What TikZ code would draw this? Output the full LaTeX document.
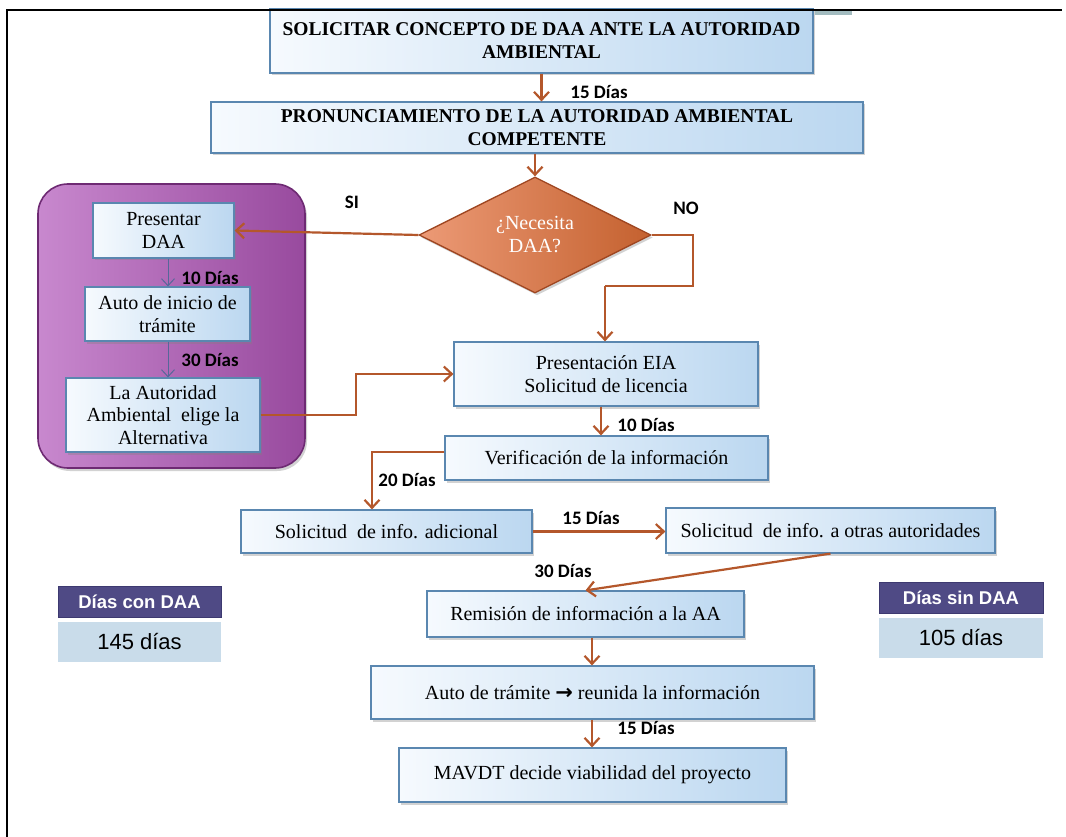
\documentclass[tikz,border=0pt]{standalone}
\usepackage{fontspec}
\setmainfont{Liberation Serif}
\newfontfamily\lblfont{Carlito}
\newfontfamily\sumfont{Liberation Sans}
\newfontfamily\symfont{DejaVu Sans}
\usetikzlibrary{arrows.meta,shapes.geometric,shadows}
\definecolor{boxL}{HTML}{F6FAFE}
\definecolor{boxR}{HTML}{BBD7F0}
\definecolor{boxB}{HTML}{5A87B0}
\definecolor{arrc}{HTML}{B4572B}
\definecolor{innarr}{HTML}{56679A}
\definecolor{purL}{HTML}{C888CE}
\definecolor{purR}{HTML}{984A9E}
\definecolor{purB}{HTML}{6E2A73}
\definecolor{diaL}{HTML}{EC9A76}
\definecolor{diaR}{HTML}{C4612F}
\definecolor{diaB}{HTML}{9E4520}
\definecolor{hdrc}{HTML}{4F4A85}
\definecolor{hdrb}{HTML}{3D3970}
\definecolor{valc}{HTML}{C9DCEA}
\definecolor{tealbar}{HTML}{A3BCC0}
\begin{document}
\begin{tikzpicture}[x=1pt,y=-1pt,
  procbox/.style={draw=boxB, line width=1.2pt, left color=boxL, right color=boxR,
    align=center, inner sep=2pt, font=\fontsize{20}{22.5}\selectfont, text=black,
    drop shadow={shadow xshift=2pt,shadow yshift=-2.5pt,opacity=.35}},
  titlebox/.style={procbox, font=\fontsize{19.5}{23}\selectfont\bfseries},
  arr/.style={draw=arrc, line width=2.2pt, -{Straight Barb[length=8pt,width=15pt]}},
  line/.style={draw=arrc, line width=2.2pt},
  inarr/.style={draw=innarr, line width=1pt, -{Straight Barb[length=7pt,width=13pt]}},
  daylbl/.style={font=\lblfont\bfseries\fontsize{19}{22}\selectfont, inner sep=0pt},
  hdrbox/.style={draw=hdrb, line width=0.6pt, fill=hdrc, text=white,
    font=\sumfont\bfseries\fontsize{18.5}{22}\selectfont, inner sep=0pt},
  valbox/.style={fill=valc, text=black,
    font=\sumfont\fontsize{22}{26}\selectfont, inner sep=0pt},
]
\useasboundingbox (0,0) rectangle (1066,837);
\fill[white] (0,0) rectangle (1066,837);

% small bar peeking at the top
\fill[tealbar] (815,11) rectangle (852,15);

% purple group
\node[draw=purB, line width=1.6pt, left color=purL, right color=purR, rounded corners=30pt,
  minimum width=267pt, minimum height=284pt, inner sep=0pt,
  drop shadow={shadow xshift=2pt,shadow yshift=-3pt,opacity=.35}] (grp) at (171.5,326) {};

% process boxes
\node[titlebox, minimum width=543pt, minimum height=64pt] (b1) at (541.5,41)
  {SOLICITAR CONCEPTO DE DAA ANTE LA AUTORIDAD\\AMBIENTAL};
\node[titlebox, minimum width=652pt, minimum height=51pt] (b2) at (537,127.5)
  {PRONUNCIAMIENTO DE LA AUTORIDAD AMBIENTAL\\COMPETENTE};

\node[diamond, shape aspect=2, draw=diaB, line width=1.3pt, left color=diaL, right color=diaR,
  minimum width=232pt, minimum height=116pt, inner sep=0pt, align=center, text=white,
  font=\fontsize{20}{23}\selectfont,
  drop shadow={shadow xshift=2pt,shadow yshift=-2.5pt,opacity=.35}] (dia) at (535,235)
  {¿Necesita\\DAA?};

\node[procbox, minimum width=141pt, minimum height=55pt] (pres) at (163.5,230.5) {Presentar\\DAA};
\node[procbox, minimum width=165pt, minimum height=54pt] (ain) at (167.5,314) {Auto de inicio de\\trámite};
\node[procbox, minimum width=194pt, minimum height=74pt] (aut) at (163,415)
  {La Autoridad\\Ambiental\ \ elige la\\Alternativa};

\node[procbox, minimum width=304pt, minimum height=64pt] (eia) at (606,374)
  {Presentación EIA\\Solicitud de licencia};
\node[procbox, minimum width=323pt, minimum height=44pt] (ver) at (606.5,458)
  {Verificación de la información};
\node[procbox, minimum width=291pt, minimum height=43pt] (sad) at (386.5,531.5)
  {Solicitud\ \ de info. adicional};
\node[procbox, minimum width=329pt, minimum height=45pt] (sot) at (830.5,530.5)
  {Solicitud\ \ de info. a otras autoridades};
\node[procbox, minimum width=317pt, minimum height=46pt] (rem) at (585.5,614)
  {Remisión de información a la AA};
\node[procbox, minimum width=443pt, minimum height=53pt] (atr) at (592.5,692.5)
  {Auto de trámite {\symfont\bfseries\fontsize{21}{22}\selectfont →} reunida la información};
\node[procbox, minimum width=387pt, minimum height=54pt] (mav) at (592.5,775)
  {MAVDT decide viabilidad del proyecto};

% summary boxes
\node[hdrbox, minimum width=163pt, minimum height=31pt] (h1) at (139.5,601.5) {Días con DAA};
\node[valbox, minimum width=163pt, minimum height=40pt] (v1) at (139.5,642) {145 días};
\node[hdrbox, minimum width=164pt, minimum height=31pt] (h2) at (961,597.5) {Días sin DAA};
\node[valbox, minimum width=164pt, minimum height=40pt] (v2) at (961,638) {105 días};

% coordinates for routing
\coordinate (noA) at (693,286);
\coordinate (noB) at (605,286);
\coordinate (mid) at (356,0);
\coordinate (x601) at (601,0);
\coordinate (x372) at (372,0);
\coordinate (x592) at (592,0);
\coordinate (x168) at (168,0);

% connectors
\draw[arr] (b1.south) -- (b1.south |- b2.north);
\draw[arr] (b2.south -| dia.north) -- (dia.north);
\draw[arr] (dia.west) -- (pres.east);
\draw[line] (dia.east) -| (noA) -- (noB);
\draw[arr] (noB) -- (noB |- eia.north);
\draw[arr] (aut.east) -- (aut.east -| mid) |- (eia.west);
\draw[inarr] (pres.south -| x168) -- (ain.north -| x168);
\draw[inarr] (ain.south -| x168) -- (aut.north -| x168);
\draw[arr] (eia.south -| x601) -- (ver.north -| x601);
\draw[arr] ([yshift=6pt]ver.west) -| (sad.north -| x372);
\draw[arr] (sad.east) -- (sot.west |- sad.east);
\draw[arr] (sot.south) -- (rem.north);
\draw[arr] (rem.south -| x592) -- (atr.north -| x592);
\draw[arr] (atr.south -| x592) -- (mav.north -| x592);

% labels
\node[daylbl] (l1) at (599,92) {15 Días};
\node[daylbl] (lsi) at (352,202) {SI};
\node[daylbl] (lno) at (686,208) {NO};
\node[daylbl] (l2) at (210,278) {10 Días};
\node[daylbl] (l3) at (210,360) {30 Días};
\node[daylbl] (l4) at (646,425) {10 Días};
\node[daylbl] (l5) at (407,480) {20 Días};
\node[daylbl] (l6) at (591,518) {15 Días};
\node[daylbl] (l7) at (563,571) {30 Días};
\node[daylbl] (l8) at (646,728) {15 Días};

% frame
\draw[black, line width=2pt] (7,837) -- (7,10) -- (1062,10);
\end{tikzpicture}
\end{document}
